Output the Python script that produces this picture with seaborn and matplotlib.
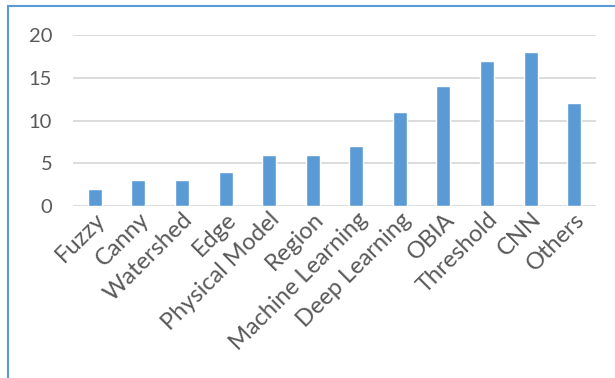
import matplotlib
matplotlib.use("Agg")
import matplotlib.pyplot as plt
from matplotlib.patches import Rectangle
import pandas as pd
import seaborn as sns

# data
methods = ["Fuzzy", "Canny", "Watershed", "Edge", "Physical Model", "Region",
           "Machine Learning", "Deep Learning", "OBIA", "Threshold", "CNN", "Others"]
counts = [2, 3, 3, 4, 6, 6, 7, 11, 14, 17, 18, 12]
yticks = [0, 5, 10, 15, 20]

df = pd.DataFrame({"method": methods, "count": counts})

sns.set_theme(style="white")
plt.rcParams['font.family'] = ['Lato', 'DejaVu Sans']

text_color = "#595959"
bar_color = "#5B9BD5"
grid_color = "#D9D9D9"

fig = plt.figure(figsize=(6.15, 3.78), dpi=100)
ax = fig.add_axes([73 / 615, 1 - 206 / 378, (596 - 73) / 615, (206 - 35) / 378])

sns.barplot(data=df, x="method", y="count", color=bar_color, width=0.32,
            saturation=1, ax=ax, zorder=3)

ax.set_ylim(0, 20)
ax.set_xlim(-0.5, len(methods) - 0.5)
ax.set_yticks(yticks)
for y in yticks:
    ax.axhline(y, color=grid_color, linewidth=1.3, zorder=1)

ax.set_xlabel("")
ax.set_ylabel("")
for s in ax.spines.values():
    s.set_visible(False)

ax.tick_params(axis="y", length=0, pad=15, labelsize=14.5, labelcolor=text_color)
ax.tick_params(axis="x", length=0, pad=2, labelsize=17, labelcolor=text_color)
plt.setp(ax.get_xticklabels(), rotation=45, ha="right", rotation_mode="anchor")

# chart border (outline partially cut off at right/bottom)
fig.patches.append(Rectangle((8 / 615, -0.05), 1.1, 1 - 6 / 378 + 0.05,
                             transform=fig.transFigure, fill=False,
                             edgecolor=bar_color, linewidth=1.5))

fig.savefig("out.png", dpi=100)
